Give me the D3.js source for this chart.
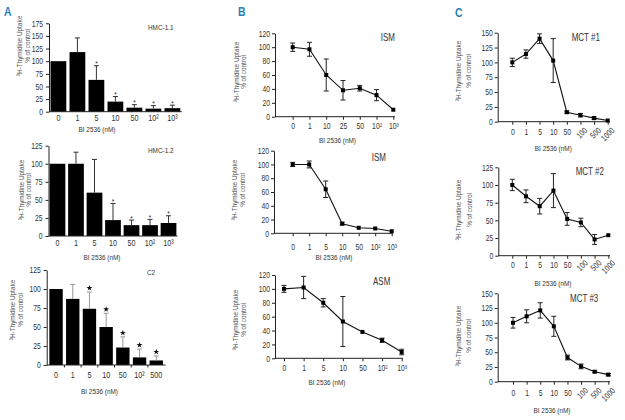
<!DOCTYPE html>
<html><head><meta charset="utf-8">
<script src="https://cdn.jsdelivr.net/npm/d3@7"></script>
<style>body{margin:0;background:#fff}svg{display:block}</style>
</head><body>
<svg id="chart" width="625" height="420"></svg>
<script>
// ---------- DATA ----------
const yTitle1 = "\u00B3H-Thymidine Uptake";
const yTitle2 = "% of control";
const xTitle = "BI 2536 (nM)";

const A1_labels = ["0","1","5","10","50","10\u00B2","10\u00B3"];
const A1_values = [100,118,63,20,8,6,7];
const A1_errors = [0,28,28,10,6,6,6];
const A1_stars  = [0,0,1,1,1,1,1];

const A2_labels = ["0","1","5","10","50","10\u00B2","10\u00B3"];
const A2_values = [100,100,60,22,15,15,18];
const A2_errors = [0,16,46,23,7,8,10];
const A2_stars  = [0,0,0,1,1,1,1];

const A3_labels = ["0","1","5","10","50","10\u00B2","500"];
const A3_values = [100,87,74,50,23,10,6];
const A3_errors = [0,19,22,18,14,11,6];
const A3_stars  = [0,0,1,1,1,1,1];

const B1_labels = ["0","1","10","25","50","10\u00B2","10\u00B3"];
const B1_values = [100,97,60,38,41,31,10];
const B1_errors = [6,10,23,14,4,8,1];

const B2_labels = ["0","1","5","10","50","10\u00B2","10\u00B3"];
const B2_values = [100,100,64,14,8,7,3];
const B2_errors = [3,5,12,2,1,1,0.5];

const B3_labels = ["0","1","5","10","50","10\u00B2","10\u00B3"];
const B3_values = [100,102,80,53,38,26,9];
const B3_errors = [5,16,6,36,1,3,4];

const C_labels  = ["0","1","5","10","50","100","500","1000"];
const C1_values = [100,114,140,103,16,11,6,2];
const C1_errors = [7,7,8,37,2,3,2,1];
const C2_values = [100,84,70,92,52,47,23,29];
const C2_errors = [8,9,11,24,9,6,7,1];
const C3_values = [100,111,121,94,41,26,17,12];
const C3_errors = [9,11,13,17,4,4,2,2];

const A_ticks_175 = [0,25,50,75,100,125,150,175];
const A_ticks_125 = [0,25,50,75,100,125];
const B_ticks = [0,20,40,60,80,100,120];
const C_ticks_150 = [0,25,50,75,100,125,150];
const C_ticks_125 = [0,25,50,75,100,125];

// ---------- STYLE ----------
const FONT = "'Liberation Sans',Arial,sans-serif";
const TXT = "#333";
const svg = d3.select("#chart");

function yAxisTitle(cfg){
  [yTitle1, yTitle2].forEach((t,i)=>{
    svg.append("text")
      .attr("transform",`translate(${cfg.titleX[i]},${cfg.titleCy}) rotate(-90)`)
      .attr("text-anchor","middle").attr("dy","0.35em")
      .attr("font-family",FONT).attr("font-size",8).attr("fill","#555")
      .text(t);
  });
}
function styleAxis(g, fs){
  g.selectAll("text").attr("font-family",FONT).attr("font-size",fs).attr("fill",TXT);
  g.selectAll("line").attr("stroke","#222");
  g.selectAll("path.domain").attr("stroke","#222");
}

function barPanel(c){
  const y = d3.scaleLinear().domain([0,c.yMax]).range([c.y0,c.yTop]);
  const x = d3.scaleBand().domain(c.labels).range(c.band).paddingInner(c.pi).paddingOuter(c.po);
  const g = svg.append("g");
  const ya = g.append("g").attr("transform",`translate(${c.axisX},0)`)
    .call(d3.axisLeft(y).tickValues(c.ticks).tickSize(3).tickPadding(3).tickSizeOuter(0));
  styleAxis(ya, 8.5);
  g.selectAll("rect.bar").data(c.values).join("rect")
    .attr("x",(d,i)=>x(c.labels[i])).attr("width",x.bandwidth())
    .attr("y",d=>y(d)).attr("height",d=>c.y0-y(d)).attr("fill","#000");
  c.values.forEach((v,i)=>{
    const e=c.errors[i]; if(!e) return;
    const cx=x(c.labels[i])+x.bandwidth()/2;
    g.append("line").attr("x1",cx).attr("x2",cx).attr("y1",y(v)).attr("y2",y(v+e))
      .attr("stroke",c.errColor).attr("stroke-width",1);
    g.append("line").attr("x1",cx-2.5).attr("x2",cx+2.5).attr("y1",y(v+e)).attr("y2",y(v+e))
      .attr("stroke",c.errColor).attr("stroke-width",1);
    if(c.stars[i]){
      if(c.starBold){
        g.append("path").attr("d",d3.symbol(d3.symbolStar).size(11)())
          .attr("transform",`translate(${cx},${y(v+e)-4})`).attr("fill","#111");
      } else {
        g.append("text").attr("x",cx).attr("y",y(v+e)+0.6)
          .attr("text-anchor","middle").attr("font-family",FONT)
          .attr("font-size",8).attr("fill","#222").text("*");
      }
    }
  });
  g.append("line").attr("x1",c.axisX).attr("x2",c.band[1]).attr("y1",c.y0).attr("y2",c.y0)
    .attr("stroke","#222");
  if(c.ticksBetween){
    c.labels.slice(1).forEach(l=>{
      const tx=x(l)-x.step()*x.paddingInner()/2;
      g.append("line").attr("x1",tx).attr("x2",tx).attr("y1",c.y0).attr("y2",c.y0+2.5).attr("stroke","#222");
    });
  }
  c.labels.forEach(l=>{
    g.append("text").attr("x",x(l)+x.bandwidth()/2).attr("y",c.xLabelY).attr("dy","0.35em")
      .attr("text-anchor","middle").attr("font-family",FONT).attr("font-size",9).attr("fill",TXT).text(l);
  });
  g.append("text").attr("x",c.xTitle[0]).attr("y",c.xTitle[1]).attr("dy","0.35em")
    .attr("text-anchor","middle").attr("font-family",FONT).attr("font-size",8).attr("fill",TXT).text(xTitle);
  g.append("text").attr("x",c.name[1]).attr("y",c.name[2]).attr("dy","0.35em")
    .attr("font-family",FONT).attr("font-size",8).attr("fill",TXT).text(c.name[0]);
  yAxisTitle(c);
}

function linePanel(c){
  const y = d3.scaleLinear().domain([0,c.yMax]).range([c.y0,c.yTop]);
  const x = d3.scalePoint().domain(c.labels).range(c.pts);
  const g = svg.append("g");
  const ya = g.append("g").attr("transform",`translate(${c.axisX},0)`)
    .call(d3.axisLeft(y).tickValues(c.ticks).tickSize(3).tickPadding(2).tickSizeOuter(0));
  styleAxis(ya, 8.5);
  g.append("line").attr("x1",c.axisX).attr("x2",c.xEnd).attr("y1",c.y0).attr("y2",c.y0).attr("stroke","#222");
  const xa = g.append("g").attr("transform",`translate(0,${c.y0})`)
    .call(d3.axisBottom(x).tickSize(3).tickSizeOuter(0));
  xa.select("path.domain").remove();
  styleAxis(xa, 8.5);
  xa.selectAll("text").attr("y",c.xLabelY-c.y0).attr("dy","0.35em");
  if(c.rotateFrom!==undefined){
    xa.selectAll(".tick").filter((d,i)=>i>=c.rotateFrom).select("text")
      .attr("text-anchor","end").attr("dy",null).attr("y",null)
      .attr("transform",`translate(7,${c.xLabelY-c.y0-1.5}) rotate(-45)`);
  }
  const line = d3.line().x((d,i)=>x(c.labels[i])).y(d=>y(d));
  g.append("path").datum(c.values).attr("d",line).attr("fill","none")
    .attr("stroke","#111").attr("stroke-width",1.1);
  c.values.forEach((v,i)=>{
    const e=c.errors[i], cx=x(c.labels[i]);
    if(e>1.2){
      g.append("line").attr("x1",cx).attr("x2",cx).attr("y1",y(v-e)).attr("y2",y(v+e)).attr("stroke","#222");
      [v-e,v+e].forEach(t=>g.append("line").attr("x1",cx-2.5).attr("x2",cx+2.5)
        .attr("y1",y(t)).attr("y2",y(t)).attr("stroke","#222"));
    }
  });
  g.selectAll("rect.pt").data(c.values).join("rect")
    .attr("x",(d,i)=>x(c.labels[i])-2).attr("y",d=>y(d)-2)
    .attr("width",4).attr("height",4).attr("fill","#000");
  g.append("text").attr("x",c.xTitle[0]).attr("y",c.xTitle[1]).attr("dy","0.35em")
    .attr("text-anchor","middle").attr("font-family",FONT).attr("font-size",8).attr("fill",TXT).text(xTitle);
  g.append("text").attr("x",c.name[1]).attr("y",c.name[2]).attr("dy","0.35em")
    .attr("font-family",FONT).attr("font-size",c.nameSize||10).attr("fill",TXT).text(c.name[0]);
  yAxisTitle(c);
}

// ---------- PANELS ----------
barPanel({labels:A1_labels,values:A1_values,errors:A1_errors,stars:A1_stars,yMax:175,ticks:A_ticks_175,
  axisX:49,yTop:23.3,y0:111.7,band:[49,181.8],pi:0.17,po:0.08,xLabelY:118.3,
  titleX:[19.5,27],titleCy:46,xTitle:[97,129],name:["HMC-1.1",148,27],errColor:"#333",starBold:false});
barPanel({labels:A2_labels,values:A2_values,errors:A2_errors,stars:A2_stars,yMax:125,ticks:A_ticks_125,
  axisX:48.5,yTop:145.7,y0:236,band:[48.5,177.5],pi:0.15,po:0.06,xLabelY:243.3,
  titleX:[21,28.5],titleCy:190,xTitle:[102,257],name:["HMC-1.2",148,150],errColor:"#333",starBold:false});
barPanel({labels:A3_labels,values:A3_values,errors:A3_errors,stars:A3_stars,yMax:125,ticks:A_ticks_125,
  axisX:46.7,yTop:270,y0:365,band:[46.7,165.6],pi:0.2,po:0.16,xLabelY:375,
  titleX:[12,20],titleCy:310,xTitle:[99.5,391],name:["C2",147,272],errColor:"#999",starBold:true,ticksBetween:true});

linePanel({labels:B1_labels,values:B1_values,errors:B1_errors,yMax:120,ticks:B_ticks,
  axisX:275,yTop:33.3,y0:116.7,pts:[292.7,393.3],xEnd:395,xLabelY:126,
  titleX:[235.7,243.5],titleCy:72,xTitle:[337.5,140],name:["ISM",380.7,38]});
linePanel({labels:B2_labels,values:B2_values,errors:B2_errors,yMax:120,ticks:B_ticks,
  axisX:274,yTop:150.7,y0:233.3,pts:[292.7,391.7],xEnd:393,xLabelY:247.3,
  titleX:[234.3,242],titleCy:190,xTitle:[334,257.3],name:["ISM",371.7,158]});
linePanel({labels:B3_labels,values:B3_values,errors:B3_errors,yMax:120,ticks:B_ticks,
  axisX:275,yTop:275,y0:358.3,pts:[284,401.7],xEnd:403,xLabelY:367.7,
  titleX:[235,243],titleCy:320,xTitle:[327,382.3],name:["ASM",373,281.7]});

linePanel({labels:C_labels,values:C1_values,errors:C1_errors,yMax:150,ticks:C_ticks_150,
  axisX:497.7,yTop:32.7,y0:121.7,pts:[512.3,607.7],xEnd:610,xLabelY:132.5,rotateFrom:5,
  titleX:[458.3,468],titleCy:71,xTitle:[553.3,148.3],name:["MCT #1",571.7,38]});
linePanel({labels:C_labels,values:C2_values,errors:C2_errors,yMax:125,ticks:C_ticks_125,
  axisX:498.3,yTop:167.3,y0:255.7,pts:[512.3,608.3],xEnd:610,xLabelY:265,rotateFrom:5,
  titleX:[458.3,469],titleCy:210,xTitle:[553,283.3],name:["MCT #2",575.7,171.7]});
linePanel({labels:C_labels,values:C3_values,errors:C3_errors,yMax:150,ticks:C_ticks_150,
  axisX:497.7,yTop:293.3,y0:381.7,pts:[513,608.3],xEnd:610,xLabelY:392.7,rotateFrom:5,
  titleX:[458.3,468],titleCy:336,xTitle:[552,410.7],name:["MCT #3",570,298.3]});

[["A",4,16.5],["B",238,16.5],["C",455,16.8]].forEach(([t,x,yy])=>{
  svg.append("text").attr("x",x).attr("y",yy).attr("font-family",FONT).attr("font-weight","bold")
    .attr("font-size",13).attr("fill","#2a7fb8").text(t);
});

// condense all text horizontally (narrow typeface look)
svg.selectAll("text").each(function(){
  const s=d3.select(this);
  const x=+s.attr("x")||0, y=+s.attr("y")||0;
  const t=s.attr("transform")||"";
  s.attr("transform",`${t} translate(${x},${y}) scale(0.8,1) translate(${-x},${-y})`);
});
</script>
</body></html>
